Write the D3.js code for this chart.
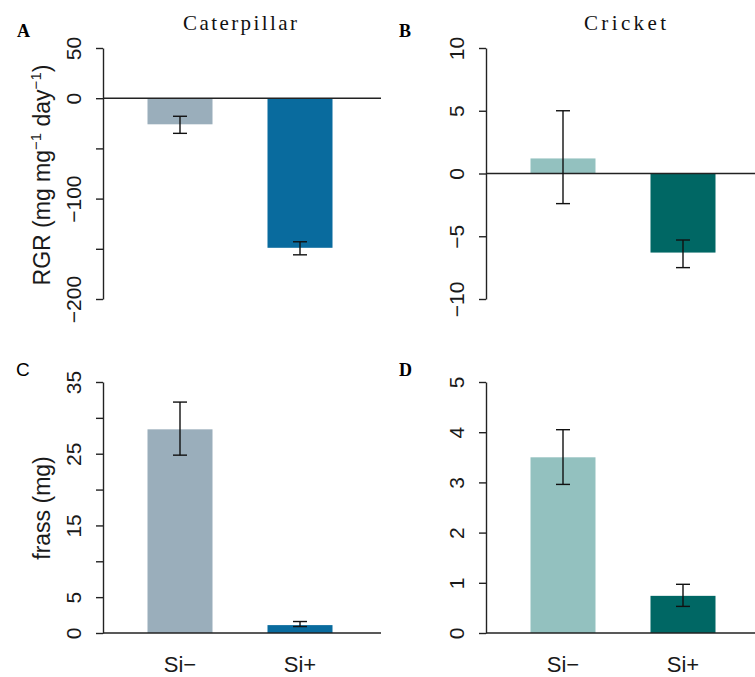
<!DOCTYPE html>
<html>
<head>
<meta charset="utf-8">
<script src="https://cdn.jsdelivr.net/npm/d3@7"></script>
<style>
  body { margin: 0; background: #fff; }
  svg { display: block; }
</style>
</head>
<body>
<div></div>
<script>
const width = 755;
const height = 677;

// data
const groups = ['Si\u2212', 'Si+'];

const caterpillarRGR = [-26, -149];
const caterpillarRGRlo = [-35, -156];
const caterpillarRGRhi = [-18, -143];

const cricketRGR = [1.2, -6.3];
const cricketRGRlo = [-2.4, -7.5];
const cricketRGRhi = [5.0, -5.3];

const caterpillarFrass = [28.4, 1.1];
const caterpillarFrassLo = [24.8, 0.9];
const caterpillarFrassHi = [32.2, 1.6];

const cricketFrass = [3.5, 0.74];
const cricketFrassLo = [2.96, 0.53];
const cricketFrassHi = [4.05, 0.97];

const ticksA = [50, 0, -50, -100, -150, -200];
const labelsA = [50, 0, -100, -200];
const ticksB = [10, 5, 0, -5, -10];
const ticksC = [35, 30, 25, 20, 15, 10, 5, 0];
const labelsC = [35, 25, 15, 5, 0];
const ticksD = [5, 4, 3, 2, 1, 0];

const colsCaterpillar = ['#9aaebb', '#096b9e'];
const colsCricket = ['#93c1bf', '#006764'];

const sans = '"Liberation Sans", Arial, sans-serif';
const serif = '"Liberation Serif", "DejaVu Serif", serif';

const svg = d3.select('div').append('svg').attr('width', width).attr('height', height);

function panel(opt) {
    const x0 = opt.x0;
    const y = d3.scaleLinear().domain(opt.domain).range([opt.bottom, opt.bottom - 251]);
    const x = d3.scalePoint().domain(groups).range([x0 + 77, x0 + 197]);
    const bw = 65;
    const g = svg.append('g');

    // bars
    g.selectAll('rect.bar').data(opt.values)
        .enter().append('rect')
        .attr('class', 'bar')
        .attr('x', (d, i) => x(groups[i]) - bw / 2)
        .attr('width', bw)
        .attr('y', d => Math.min(y(d), y(0)))
        .attr('height', d => Math.abs(y(d) - y(0)))
        .attr('fill', (d, i) => opt.colors[i]);

    // zero / base line
    g.append('line')
        .attr('x1', x0).attr('x2', x0 + 278)
        .attr('y1', y(0)).attr('y2', y(0))
        .attr('stroke', '#222').attr('stroke-width', 1.4);

    // error bars
    const eb = g.selectAll('g.err').data(opt.values).enter().append('g').attr('class', 'err')
        .attr('stroke', '#111').attr('stroke-width', 1.4);
    eb.append('line')
        .attr('x1', (d, i) => x(groups[i])).attr('x2', (d, i) => x(groups[i]))
        .attr('y1', (d, i) => y(opt.lo[i])).attr('y2', (d, i) => y(opt.hi[i]));
    eb.append('line')
        .attr('x1', (d, i) => x(groups[i]) - 7).attr('x2', (d, i) => x(groups[i]) + 7)
        .attr('y1', (d, i) => y(opt.lo[i])).attr('y2', (d, i) => y(opt.lo[i]));
    eb.append('line')
        .attr('x1', (d, i) => x(groups[i]) - 7).attr('x2', (d, i) => x(groups[i]) + 7)
        .attr('y1', (d, i) => y(opt.hi[i])).attr('y2', (d, i) => y(opt.hi[i]));

    // y axis, R style with rotated labels
    const ax = g.append('g')
        .attr('transform', 'translate(' + x0 + ',0)')
        .call(d3.axisLeft(y)
            .tickValues(opt.ticks)
            .tickSize(7)
            .tickSizeOuter(0)
            .tickFormat(d => opt.labels.indexOf(d) >= 0 ? d3.format('d')(d) : ''));
    ax.select('.domain').attr('stroke', '#222').attr('stroke-width', 1.4);
    ax.selectAll('.tick line').attr('stroke', '#222').attr('stroke-width', 1.4);
    ax.selectAll('.tick text')
        .attr('transform', 'rotate(-90)')
        .attr('x', 0).attr('y', -22).attr('dy', 0)
        .attr('text-anchor', 'middle')
        .attr('fill', '#1a1a1a')
        .style('font-family', sans)
        .style('font-size', '21px');

    if (opt.showGroups) {
        g.selectAll('text.grp').data(groups).enter().append('text')
            .attr('class', 'grp')
            .attr('x', d => x(d))
            .attr('y', 672)
            .attr('text-anchor', 'middle')
            .attr('fill', '#1a1a1a')
            .style('font-family', sans)
            .style('font-size', '22px')
            .text(d => d);
    }
    return g;
}

panel({ x0: 103, bottom: 299, domain: [-200, 50], ticks: ticksA, labels: labelsA,
    values: caterpillarRGR, lo: caterpillarRGRlo, hi: caterpillarRGRhi, colors: colsCaterpillar });
panel({ x0: 486, bottom: 299, domain: [-10, 10], ticks: ticksB, labels: ticksB,
    values: cricketRGR, lo: cricketRGRlo, hi: cricketRGRhi, colors: colsCricket });
panel({ x0: 103, bottom: 633, domain: [0, 35], ticks: ticksC, labels: labelsC,
    values: caterpillarFrass, lo: caterpillarFrassLo, hi: caterpillarFrassHi, colors: colsCaterpillar, showGroups: true });
panel({ x0: 486, bottom: 633, domain: [0, 5], ticks: ticksD, labels: ticksD,
    values: cricketFrass, lo: cricketFrassLo, hi: cricketFrassHi, colors: colsCricket, showGroups: true });

// titles
svg.append('text').attr('x', 183).attr('y', 30).attr('textLength', 114).attr('lengthAdjust', 'spacing')
    .style('font-family', serif).style('font-size', '21px').attr('fill', '#111').text('Caterpillar');
svg.append('text').attr('x', 584).attr('y', 30).attr('textLength', 82).attr('lengthAdjust', 'spacing')
    .style('font-family', serif).style('font-size', '21px').attr('fill', '#111').text('Cricket');

// panel letters
svg.append('text').attr('x', 17).attr('y', 37).style('font-family', serif).style('font-weight', 'bold')
    .style('font-size', '18px').text('A');
svg.append('text').attr('x', 399).attr('y', 37).style('font-family', serif).style('font-weight', 'bold')
    .style('font-size', '18px').text('B');
svg.append('text').attr('x', 16).attr('y', 376).style('font-family', sans)
    .style('font-size', '19px').text('C');
svg.append('text').attr('x', 399).attr('y', 376).style('font-family', serif).style('font-weight', 'bold')
    .style('font-size', '18px').text('D');

// y axis titles
const rgr = svg.append('text')
    .attr('transform', 'translate(50,175) rotate(-90)')
    .attr('text-anchor', 'middle')
    .attr('fill', '#1a1a1a')
    .style('font-family', sans)
    .style('font-size', '23px');
rgr.append('tspan').text('RGR (mg mg');
rgr.append('tspan').attr('dy', -9).style('font-size', '15px').text('\u22121');
rgr.append('tspan').attr('dy', 9).text(' day');
rgr.append('tspan').attr('dy', -9).style('font-size', '15px').text('\u22121');
rgr.append('tspan').attr('dy', 9).text(')');

svg.append('text')
    .attr('transform', 'translate(50,508) rotate(-90)')
    .attr('text-anchor', 'middle')
    .attr('fill', '#1a1a1a')
    .style('font-family', sans)
    .style('font-size', '23px')
    .text('frass (mg)');
</script>
</body>
</html>
